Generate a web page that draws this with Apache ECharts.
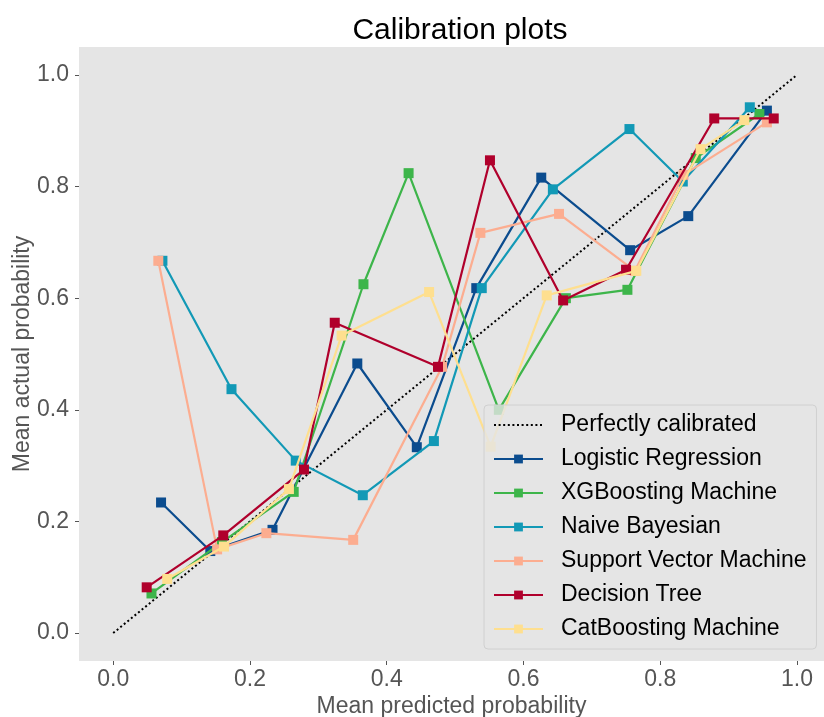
<!DOCTYPE html>
<html>
<head>
<meta charset="utf-8">
<script src="https://cdn.jsdelivr.net/npm/echarts@6/dist/echarts.min.js"></script>
<style>
html,body{margin:0;padding:0;background:#fff;}
#chart{width:824px;height:717px;}
</style>
</head>
<body>
<div id="chart"></div>
<script>
const tickValues = [0, 0.2, 0.4, 0.6, 0.8, 1.0];
const seriesNames = ['Logistic Regression', 'XGBoosting Machine', 'Naive Bayesian', 'Support Vector Machine', 'Decision Tree', 'CatBoosting Machine'];
const perfectX = [0, 1];
const perfectY = [0, 1];

const lrX = [0.070, 0.142, 0.233, 0.357, 0.444, 0.531, 0.626, 0.756, 0.841, 0.956];
const lrY = [0.234, 0.147, 0.185, 0.483, 0.333, 0.618, 0.816, 0.686, 0.747, 0.936];

const xgbX = [0.056, 0.159, 0.264, 0.366, 0.432, 0.564, 0.662, 0.752, 0.852, 0.945];
const xgbY = [0.071, 0.163, 0.253, 0.625, 0.824, 0.400, 0.600, 0.615, 0.851, 0.930];

const nbX = [0.072, 0.173, 0.267, 0.365, 0.469, 0.539, 0.643, 0.755, 0.833, 0.931];
const nbY = [0.667, 0.437, 0.309, 0.247, 0.344, 0.618, 0.795, 0.903, 0.809, 0.942];

const svmX = [0.066, 0.152, 0.224, 0.351, 0.481, 0.537, 0.652, 0.763, 0.834, 0.956];
const svmY = [0.667, 0.150, 0.179, 0.167, 0.477, 0.717, 0.751, 0.649, 0.821, 0.915];

const dtX = [0.049, 0.161, 0.279, 0.324, 0.475, 0.551, 0.658, 0.750, 0.879, 0.966];
const dtY = [0.082, 0.175, 0.293, 0.556, 0.477, 0.847, 0.596, 0.651, 0.922, 0.922];

const catX = [0.079, 0.162, 0.257, 0.334, 0.462, 0.552, 0.634, 0.765, 0.859, 0.923];
const catY = [0.097, 0.155, 0.258, 0.533, 0.611, 0.334, 0.605, 0.649, 0.867, 0.919];

const colors = ['#0b4c8e', '#3db54a', '#1299b6', '#fcad90', '#b0002c', '#fedf8f'];
const xs = [lrX, xgbX, nbX, svmX, dtX, catX];
const ys = [lrY, xgbY, nbY, svmY, dtY, catY];

const FONT = 'Liberation Sans, Arial, sans-serif';
const pairs = (a, b) => a.map((v, i) => [v, b[i]]);

const series = [{
  name: 'Perfectly calibrated',
  type: 'line',
  data: pairs(perfectX, perfectY),
  symbol: 'none',
  color: '#000',
  lineStyle: { color: '#000', width: 2, type: [2, 2.6] },
  emphasis: { disabled: true },
  z: 2
}];
seriesNames.forEach((n, i) => {
  series.push({
    name: n,
    type: 'line',
    data: pairs(xs[i], ys[i]),
    symbol: 'rect',
    symbolSize: 10,
    color: colors[i],
    itemStyle: { color: colors[i] },
    lineStyle: { color: colors[i], width: 2.2 },
    emphasis: { disabled: true },
    z: 3 + i
  });
});

const chart = echarts.init(document.getElementById('chart'), null, { renderer: 'canvas' });
chart.setOption({
  animation: false,
  backgroundColor: '#ffffff',
  textStyle: { fontFamily: FONT },
  title: {
    text: 'Calibration plots',
    left: 455,
    top: 11,
    textAlign: 'center',
    textStyle: { fontFamily: FONT, fontSize: 30, fontWeight: 'normal', color: '#000' }
  },
  grid: { left: 79, right: 0, top: 47, bottom: 56, show: true, backgroundColor: '#e5e5e5', borderWidth: 0, containLabel: false, outerBoundsMode: 'none' },
  xAxis: {
    type: 'value',
    min: -0.05,
    max: 1.0395,
    name: 'Mean predicted probability',
    nameLocation: 'middle',
    nameGap: 34,
    nameMoveOverlap: false,
    nameTextStyle: { fontFamily: FONT, fontSize: 23, color: '#555' },
    axisLine: { show: false, onZero: false },
    splitLine: { show: false },
    axisTick: { show: true, customValues: tickValues, length: 4, lineStyle: { color: '#555' } },
    axisLabel: { customValues: tickValues, margin: 7, fontFamily: FONT, fontSize: 23, color: '#555', formatter: v => v.toFixed(1) }
  },
  yAxis: {
    type: 'value',
    min: -0.05,
    max: 1.05,
    name: 'Mean actual probability',
    nameLocation: 'middle',
    nameGap: 45,
    nameRotate: 90,
    nameMoveOverlap: false,
    nameTextStyle: { fontFamily: FONT, fontSize: 23, color: '#555' },
    axisLine: { show: false, onZero: false },
    splitLine: { show: false },
    axisTick: { show: true, customValues: tickValues, length: 4, lineStyle: { color: '#555' } },
    axisLabel: { customValues: tickValues, margin: 10, fontFamily: FONT, fontSize: 23, color: '#555', formatter: v => v.toFixed(1) }
  },
  legend: {
    orient: 'vertical',
    left: 484,
    top: 405,
    padding: [8, 10, 8, 9],
    itemWidth: 49,
    itemHeight: 11,
    itemGap: 10,
    backgroundColor: 'rgba(229,229,229,0.8)',
    borderColor: '#d0d0d0',
    borderWidth: 1,
    borderRadius: 4,
    data: [{ name: 'Perfectly calibrated', itemStyle: { opacity: 0 } }].concat(seriesNames),
    textStyle: { fontFamily: FONT, fontSize: 23, color: '#000', lineHeight: 24, padding: [0, 0, 0, 13] },
    selectedMode: false,
    z: 10
  },
  series: series
});
</script>
</body>
</html>
